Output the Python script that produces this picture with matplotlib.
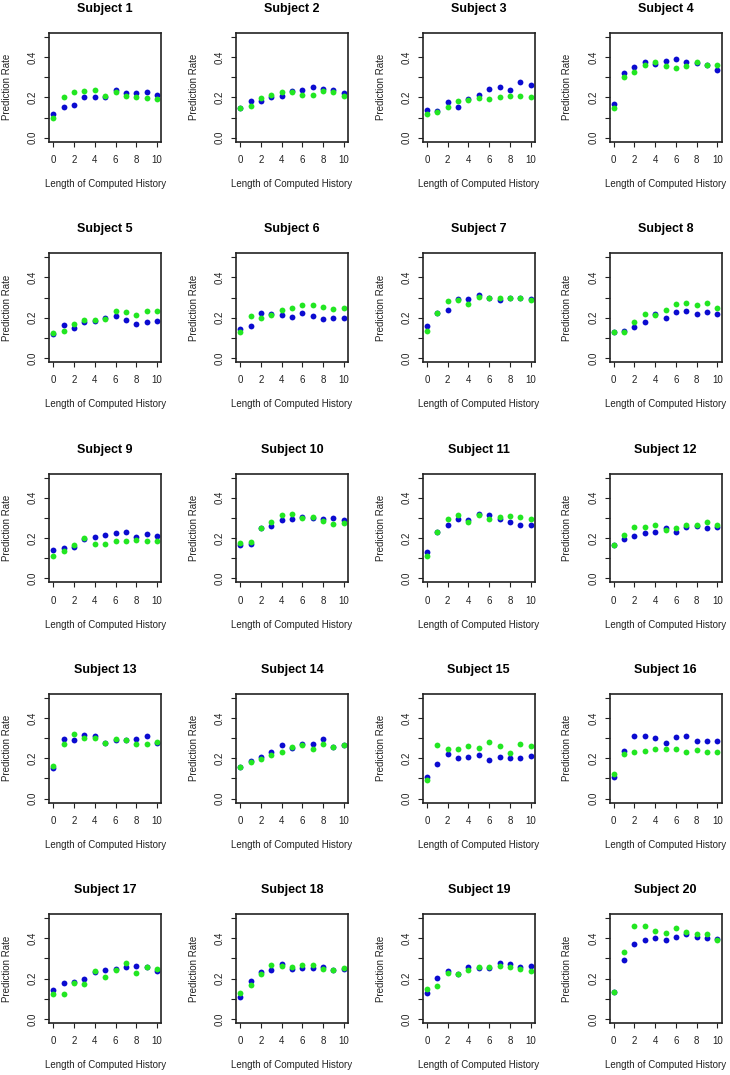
import matplotlib
matplotlib.use("Agg")
import matplotlib.pyplot as plt

plt.rcParams['font.family'] = ['Liberation Sans', 'DejaVu Sans']

# length of computed history (x values, shared by all panels)
history = [0, 1, 2, 3, 4, 5, 6, 7, 8, 9, 10]

# prediction rate per subject, blue series
rate_blue = [
    [0.118, 0.153, 0.163, 0.201, 0.204, 0.204, 0.235, 0.221, 0.224, 0.227, 0.211],
    [0.148, 0.184, 0.182, 0.202, 0.209, 0.234, 0.237, 0.250, 0.240, 0.237, 0.224],
    [0.136, 0.133, 0.177, 0.151, 0.194, 0.212, 0.244, 0.252, 0.239, 0.279, 0.260],
    [0.169, 0.322, 0.352, 0.375, 0.367, 0.381, 0.391, 0.378, 0.371, 0.362, 0.335],
    [0.121, 0.164, 0.148, 0.181, 0.186, 0.197, 0.211, 0.187, 0.171, 0.181, 0.184],
    [0.144, 0.161, 0.222, 0.219, 0.214, 0.202, 0.221, 0.207, 0.194, 0.199, 0.200],
    [0.160, 0.221, 0.240, 0.295, 0.293, 0.311, 0.298, 0.287, 0.298, 0.300, 0.293],
    [0.127, 0.136, 0.155, 0.177, 0.220, 0.197, 0.227, 0.233, 0.218, 0.227, 0.220],
    [0.140, 0.150, 0.155, 0.197, 0.203, 0.213, 0.223, 0.230, 0.205, 0.218, 0.208],
    [0.167, 0.172, 0.251, 0.258, 0.289, 0.293, 0.306, 0.298, 0.296, 0.299, 0.289],
    [0.132, 0.230, 0.263, 0.293, 0.289, 0.317, 0.312, 0.293, 0.279, 0.263, 0.263],
    [0.165, 0.197, 0.210, 0.225, 0.231, 0.248, 0.228, 0.253, 0.258, 0.250, 0.253],
    [0.152, 0.294, 0.293, 0.316, 0.309, 0.276, 0.289, 0.289, 0.296, 0.311, 0.274],
    [0.157, 0.188, 0.208, 0.231, 0.268, 0.250, 0.269, 0.269, 0.294, 0.258, 0.266],
    [0.109, 0.174, 0.223, 0.200, 0.207, 0.217, 0.192, 0.207, 0.203, 0.203, 0.210],
    [0.107, 0.236, 0.309, 0.312, 0.302, 0.278, 0.306, 0.312, 0.288, 0.284, 0.284],
    [0.144, 0.177, 0.182, 0.197, 0.233, 0.241, 0.248, 0.260, 0.263, 0.256, 0.236],
    [0.107, 0.190, 0.231, 0.245, 0.274, 0.248, 0.251, 0.251, 0.258, 0.245, 0.248],
    [0.127, 0.203, 0.240, 0.223, 0.260, 0.255, 0.255, 0.276, 0.271, 0.260, 0.264],
    [0.132, 0.291, 0.370, 0.393, 0.403, 0.393, 0.407, 0.421, 0.408, 0.403, 0.397],
]

# prediction rate per subject, green series
rate_green = [
    [0.098, 0.204, 0.226, 0.232, 0.235, 0.207, 0.227, 0.206, 0.201, 0.197, 0.194],
    [0.148, 0.159, 0.196, 0.211, 0.229, 0.226, 0.214, 0.214, 0.232, 0.226, 0.209],
    [0.116, 0.128, 0.153, 0.184, 0.187, 0.196, 0.192, 0.201, 0.207, 0.207, 0.204],
    [0.149, 0.300, 0.325, 0.362, 0.378, 0.358, 0.348, 0.355, 0.376, 0.362, 0.362],
    [0.124, 0.136, 0.169, 0.189, 0.189, 0.194, 0.235, 0.227, 0.214, 0.234, 0.234],
    [0.131, 0.207, 0.199, 0.212, 0.237, 0.247, 0.264, 0.265, 0.254, 0.244, 0.247],
    [0.136, 0.221, 0.283, 0.287, 0.270, 0.303, 0.298, 0.300, 0.300, 0.300, 0.287],
    [0.127, 0.127, 0.180, 0.217, 0.213, 0.240, 0.270, 0.273, 0.265, 0.273, 0.247],
    [0.112, 0.137, 0.164, 0.198, 0.169, 0.172, 0.183, 0.183, 0.190, 0.187, 0.183],
    [0.174, 0.179, 0.248, 0.279, 0.312, 0.317, 0.301, 0.302, 0.286, 0.269, 0.273],
    [0.112, 0.230, 0.296, 0.314, 0.279, 0.312, 0.293, 0.302, 0.309, 0.306, 0.293],
    [0.165, 0.213, 0.256, 0.253, 0.263, 0.240, 0.250, 0.263, 0.266, 0.278, 0.263],
    [0.162, 0.273, 0.319, 0.302, 0.302, 0.276, 0.294, 0.289, 0.269, 0.273, 0.279],
    [0.157, 0.183, 0.198, 0.215, 0.233, 0.254, 0.264, 0.246, 0.269, 0.254, 0.268],
    [0.093, 0.264, 0.245, 0.244, 0.262, 0.252, 0.283, 0.259, 0.226, 0.269, 0.259],
    [0.124, 0.221, 0.233, 0.236, 0.246, 0.246, 0.246, 0.233, 0.240, 0.230, 0.230],
    [0.126, 0.126, 0.180, 0.172, 0.236, 0.210, 0.241, 0.276, 0.230, 0.256, 0.250],
    [0.131, 0.169, 0.223, 0.268, 0.263, 0.260, 0.266, 0.266, 0.248, 0.241, 0.254],
    [0.150, 0.165, 0.228, 0.223, 0.241, 0.256, 0.256, 0.264, 0.256, 0.248, 0.236],
    [0.132, 0.334, 0.461, 0.461, 0.438, 0.428, 0.450, 0.433, 0.421, 0.421, 0.390],
]

subjects = ["Subject %d" % (i + 1) for i in range(20)]

W, H = 730, 1075
fig = plt.figure(figsize=(W / 100, H / 100), dpi=100)

# panel geometry in pixels (R style mfrow grid)
ax_left0, ax_top0 = 49.2, 33.0
ax_w, ax_h = 112.0, 108.7
col_step, row_step = 186.8, 220.3

for i, name in enumerate(subjects):
    r, c = divmod(i, 4)
    left = ax_left0 + c * col_step
    top = ax_top0 + r * row_step
    ax = fig.add_axes([left / W, 1 - (top + ax_h) / H, ax_w / W, ax_h / H])

    ax.plot(history, rate_blue[i], 'o', color='#0b0bd0', markersize=4.2, markeredgewidth=0)
    ax.plot(history, rate_green[i], 'o', color='#22e622', markersize=4.2, markeredgewidth=0)

    ax.set_xlim(-0.4, 10.4)
    ax.set_ylim(-0.02, 0.52)
    ax.set_xticks([0, 2, 4, 6, 8, 10])
    ax.set_yticks([0.0, 0.1, 0.2, 0.3, 0.4, 0.5])
    ax.set_yticklabels(['0.0', '', '0.2', '', '0.4', ''])
    ax.tick_params(axis='both', direction='out', length=3.6, width=0.8,
                   labelsize=7, color='#222222', labelcolor='#222222')
    ax.tick_params(axis='x', pad=6)
    ax.tick_params(axis='y', pad=4.5, labelrotation=90)
    for lbl in ax.get_yticklabels():
        lbl.set_va('center')
    for sp in ax.spines.values():
        sp.set_linewidth(1.2)
        sp.set_color('#222222')

    ax.set_xlabel('Length of Computed History', fontsize=7, color='#222222')
    ax.xaxis.set_label_coords(0.5, -(184 - 141.7) / ax_h)
    ax.xaxis.label.set_va('center')
    ax.set_ylabel('Prediction Rate', fontsize=7, color='#222222')
    ax.yaxis.set_label_coords(-(ax_left0 - 7) / ax_w, 0.5)
    ax.yaxis.label.set_va('center')

    ax.text(0.5, 1 + 24 / ax_h, name, transform=ax.transAxes, ha='center',
            va='center', fontsize=9, fontweight='bold')

fig.savefig('out.png', dpi=100)
